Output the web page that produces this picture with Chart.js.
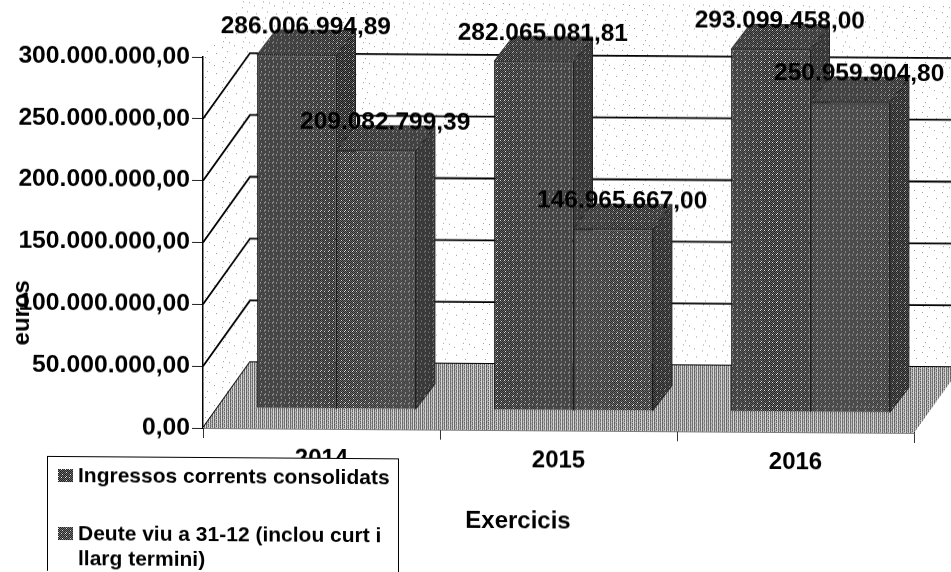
<!DOCTYPE html>
<html><head><meta charset="utf-8">
<script src="https://cdn.jsdelivr.net/npm/chart.js@4/dist/chart.umd.min.js"></script>
<style>
html,body{margin:0;padding:0;background:#fff;overflow:hidden}
canvas{display:block;transform:skewY(0.4deg);transform-origin:203px 428px}
</style></head><body>
<canvas id="c" width="951" height="572"></canvas>
<script>
const categories = ['2014','2015','2016'];
const ingressos = [286006994.89, 282065081.81, 293099458.00];
const deute = [209082799.39, 146965667.00, 250959904.80];
const seriesNames = ['Ingressos corrents consolidats', 'Deute viu a 31-12 (inclou curt i llarg termini)'];
const legendLines = [['Ingressos corrents consolidats'], ['Deute viu a 31-12 (inclou curt i', 'llarg termini)']];
const xTitle = 'Exercicis';
const yTitle = 'euros';

const FAMILY = '"Liberation Sans", Arial, sans-serif';
const FONT = 'bold 24.5px ' + FAMILY;
const WALL = {dx: 47, dy: -66};
const BAR_SHIFT = {dx: 15, dy: -20};
const BAR_DEPTH = {dx: 19, dy: -25};

function tile(rows, palette) {
  const c = document.createElement('canvas');
  c.width = rows[0].length; c.height = rows.length;
  const g = c.getContext('2d');
  rows.forEach((r, y) => [...r].forEach((ch, x) => {
    if (palette[ch]) { g.fillStyle = palette[ch]; g.fillRect(x, y, 1, 1); }
  }));
  return g.createPattern(c, 'repeat');
}
const barRows = ['kgkgkgkg','gkwkgkgk','kgkgkgkg','gkgkgkwk','kgkgkgkg','gkwkgkgk','kwkgkwkg','gkgkgkgk'];
const frontA = tile(barRows, {k:'#1e1e1e', g:'#6c6c6c', w:'#eeeeee'});
const frontB = tile(barRows, {k:'#222222', g:'#747474', w:'#e4e4e4'});
const sideFace = tile(barRows, {k:'#161616', g:'#5c5c5c', w:'#bcbcbc'});
const topFace = tile(barRows, {k:'#1e1e1e', g:'#666666', w:'#cccccc'});
const floorFace = tile(['abcdabad','cbadcbab','abcdabcd','dbabcbad'], {a:'#5e5e5e', b:'#d8d8d8', c:'#808080', d:'#b4b4b4'});
const wallFace = tile([
  '....................','...x................','.........x..........','....................',
  '....................','..............x.....','....................','..x.................',
  '....................','....................','....................','.......x............',
  '....................','................x...','....................','....................',
  '....................','.....x..............','....................','....................'
], {x:'#999999'});

function fmt(v) {
  return v.toLocaleString('de-DE', {minimumFractionDigits: 2, maximumFractionDigits: 2});
}
function poly(ctx, pts, fill, stroke) {
  ctx.beginPath();
  pts.forEach((p, i) => i ? ctx.lineTo(p[0], p[1]) : ctx.moveTo(p[0], p[1]));
  ctx.closePath();
  ctx.fillStyle = fill; ctx.fill();
  if (stroke) { ctx.strokeStyle = stroke; ctx.lineWidth = 1; ctx.stroke(); }
}

const scene3d = {
  id: 'scene3d',
  beforeDatasetsDraw(chart) {
    const {ctx, chartArea: a, scales: {y}} = chart;
    const W = WALL;
    ctx.save();
    // walls
    poly(ctx, [[a.left,a.bottom],[a.left,a.top],[a.left+W.dx,a.top+W.dy],[a.left+W.dx,a.bottom+W.dy]], wallFace);
    poly(ctx, [[a.left+W.dx,a.top+W.dy],[a.right+W.dx,a.top+W.dy],[a.right+W.dx,a.bottom+W.dy],[a.left+W.dx,a.bottom+W.dy]], wallFace);
    // gridlines on back and side wall
    ctx.strokeStyle = '#000'; ctx.lineWidth = 1.8;
    y.ticks.forEach(t => {
      if (t.value >= y.max) return;
      const py = y.getPixelForValue(t.value);
      ctx.beginPath();
      ctx.moveTo(a.left, py);
      ctx.lineTo(a.left + W.dx, py + W.dy);
      ctx.lineTo(a.right + W.dx, py + W.dy);
      ctx.stroke();
    });
    // floor
    poly(ctx, [[a.left,a.bottom],[a.right,a.bottom],[a.right+W.dx,a.bottom+W.dy],[a.left+W.dx,a.bottom+W.dy]], floorFace);
    // bars: depth faces first, the library draws the fronts over them
    ctx.translate(BAR_SHIFT.dx, BAR_SHIFT.dy);
    const D = BAR_DEPTH;
    chart.data.datasets.forEach((ds, i) => {
      chart.getDatasetMeta(i).data.forEach(b => {
        const l = b.x - b.width / 2, r = b.x + b.width / 2;
        poly(ctx, [[r,b.y],[r+D.dx,b.y+D.dy],[r+D.dx,b.base+D.dy],[r,b.base]], sideFace, '#222');
        poly(ctx, [[l,b.y],[l+D.dx,b.y+D.dy],[r+D.dx,b.y+D.dy],[r,b.y]], topFace, '#333');
      });
    });
  },
  afterDatasetsDraw(chart) {
    const {ctx} = chart;
    ctx.restore();
    ctx.save();
    ctx.font = FONT; ctx.fillStyle = '#000';
    ctx.textAlign = 'center'; ctx.textBaseline = 'middle';
    chart.data.datasets.forEach((ds, i) => {
      chart.getDatasetMeta(i).data.forEach((b, j) => {
        ctx.fillText(fmt(ds.data[j]), b.x + BAR_SHIFT.dx + 9, b.y + BAR_SHIFT.dy - 28);
      });
    });
    ctx.restore();
  },
  afterDraw(chart) {
    const {ctx} = chart;
    ctx.save();
    // axis titles
    ctx.fillStyle = '#000'; ctx.font = 'bold 24px ' + FAMILY;
    ctx.textAlign = 'center'; ctx.textBaseline = 'middle';
    ctx.fillText(xTitle, 518, 519);
    ctx.save();
    ctx.translate(22, 314); ctx.rotate(-Math.PI / 2);
    ctx.fillText(yTitle, 0, 0);
    ctx.restore();
    // legend box
    ctx.fillStyle = '#fff'; ctx.fillRect(47, 457, 351, 125);
    ctx.strokeStyle = '#000'; ctx.lineWidth = 1; ctx.strokeRect(47.5, 457.5, 351, 125);
    ctx.font = 'bold 21px ' + FAMILY;
    ctx.textAlign = 'left';
    const rows = [[477, frontA], [535, frontB]];
    legendLines.forEach((lines, i) => {
      const [cy, pat] = rows[i];
      ctx.fillStyle = pat; ctx.fillRect(58, cy - 7, 15, 13);
      ctx.fillStyle = '#000';
      lines.forEach((ln, k) => ctx.fillText(ln, 78, cy + k * 25));
    });
    ctx.restore();
  }
};

new Chart(document.getElementById('c'), {
  type: 'bar',
  data: {
    labels: categories,
    datasets: [
      {label: seriesNames[0], data: ingressos, backgroundColor: frontA, borderColor: '#111', borderWidth: 1, categoryPercentage: 0.67, barPercentage: 1},
      {label: seriesNames[1], data: deute, backgroundColor: frontB, borderColor: '#111', borderWidth: 1, categoryPercentage: 0.67, barPercentage: 1}
    ]
  },
  plugins: [scene3d],
  options: {
    responsive: false,
    animation: false,
    layout: {padding: {top: 57, right: 37, left: 0, bottom: 0}},
    plugins: {legend: {display: false}, tooltip: {enabled: false}, title: {display: false}},
    scales: {
      x: {
        z: 1,
        grid: {drawOnChartArea: false, color: '#333', tickLength: 10, offset: true},
        border: {color: '#000', width: 1.5},
        ticks: {color: '#000', font: {family: FAMILY, size: 24, weight: 'bold'}, padding: 6, maxRotation: 0, autoSkip: false},
        afterFit(s) { s.height = 144; }
      },
      y: {
        z: 1,
        min: 0, max: 300000000,
        grid: {drawOnChartArea: false, color: '#222', tickLength: 11},
        border: {color: '#000', width: 1.5},
        ticks: {color: '#000', font: {family: FAMILY, size: 24.7, weight: 'bold'}, padding: 2, stepSize: 50000000, callback: v => fmt(v)},
        afterFit(s) { s.width = 203; }
      }
    }
  }
});
</script>
</body></html>
